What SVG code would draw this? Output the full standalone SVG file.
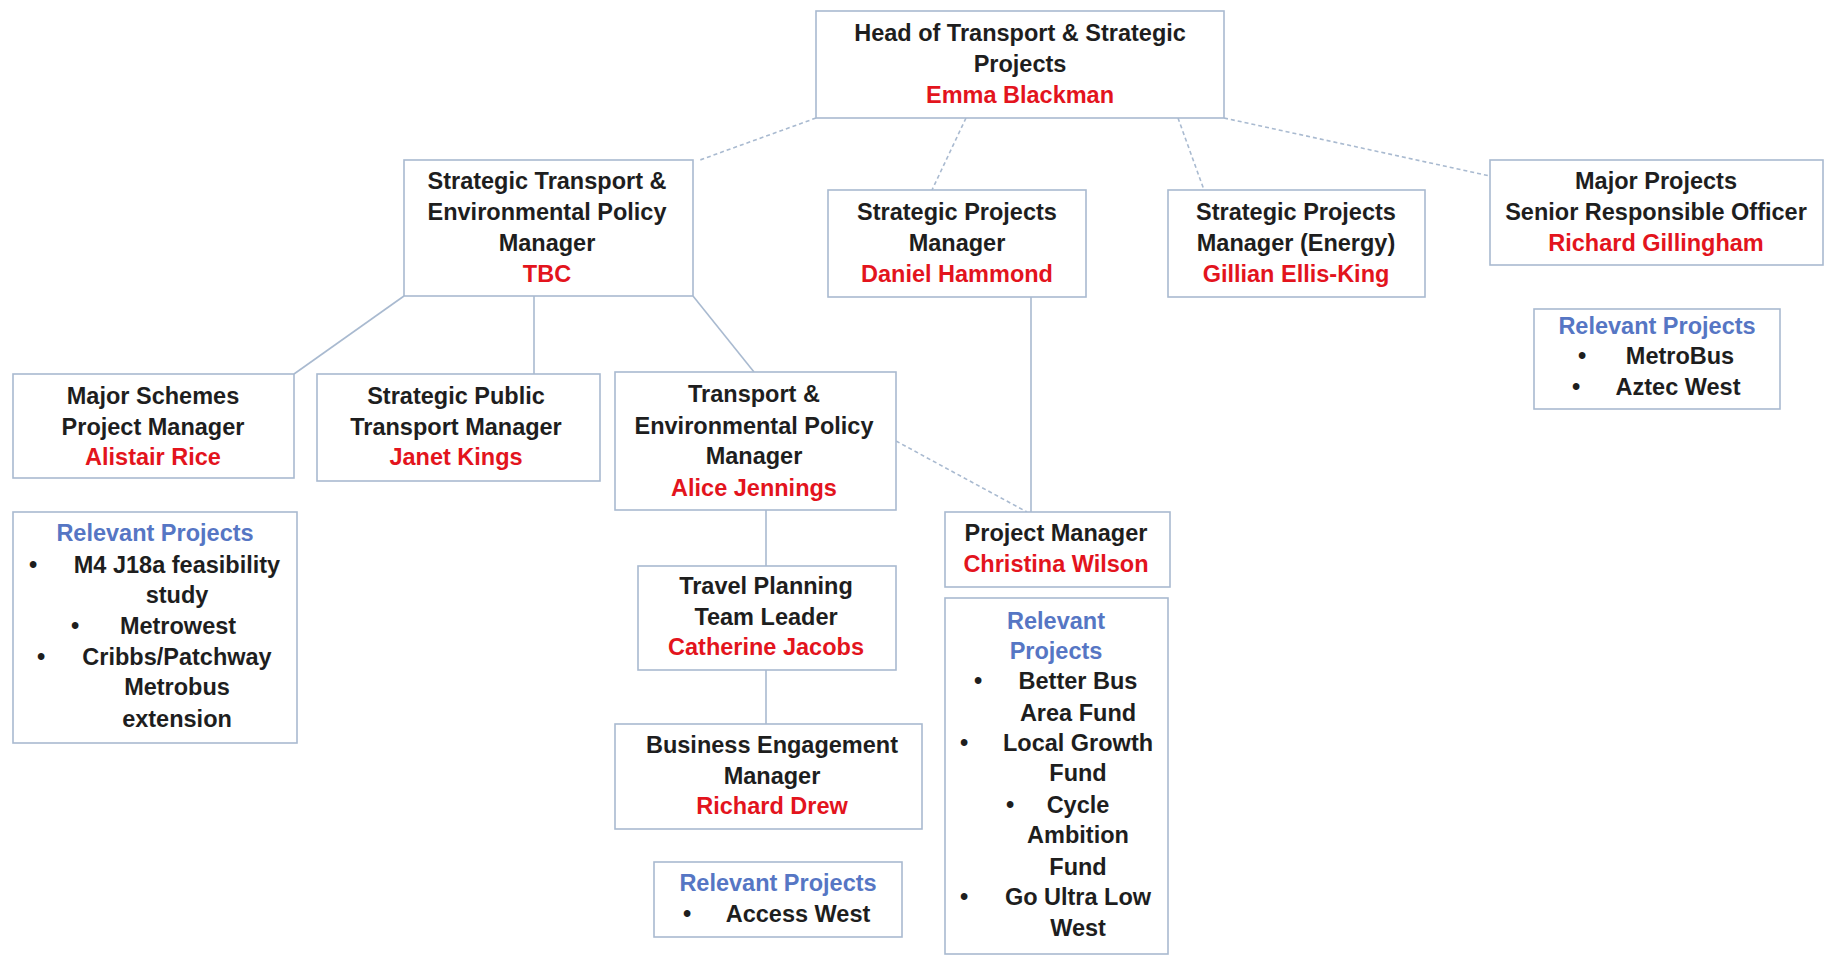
<svg xmlns="http://www.w3.org/2000/svg" width="1829" height="956" viewBox="0 0 1829 956">
<style>
.box{fill:#ffffff;stroke:#a9bad0;stroke-width:1.6}
.t{font-family:"Liberation Sans",Arial,sans-serif;font-weight:bold;font-size:23.5px;fill:#1e1e1e;text-anchor:middle;dominant-baseline:central}
.n{fill:#e3141d}
.rp{fill:#5676c4}
.solid{stroke:#a9bad0;stroke-width:1.6;fill:none}
.dash{stroke:#a9bad0;stroke-width:1.6;fill:none;stroke-dasharray:4 3}
</style>
<rect width="1829" height="956" fill="#ffffff"/>
<g id="connectors">
<line class="dash" x1="816" y1="118" x2="700" y2="160"/>
<line class="dash" x1="966" y1="118" x2="932" y2="190"/>
<line class="dash" x1="1178" y1="118" x2="1204" y2="190"/>
<line class="dash" x1="1224" y1="118" x2="1490" y2="176"/>
<line class="solid" x1="404" y1="296" x2="294" y2="374"/>
<line class="solid" x1="534" y1="296" x2="534" y2="374"/>
<line class="solid" x1="693" y1="296" x2="754" y2="372"/>
<line class="solid" x1="1031" y1="297" x2="1031" y2="512"/>
<line class="dash" x1="896" y1="441" x2="1027" y2="512"/>
<line class="solid" x1="766" y1="510" x2="766" y2="566"/>
<line class="solid" x1="766" y1="670" x2="766" y2="724"/>
</g>
<g id="head">
<rect class="box" x="816" y="11" width="408" height="107"/>
<text class="t" x="1020" y="33">Head of Transport &amp; Strategic</text>
<text class="t" x="1020" y="64">Projects</text>
<text class="t n" x="1020" y="95">Emma Blackman</text>
</g>
<g id="step">
<rect class="box" x="404" y="160" width="289" height="136"/>
<text class="t" x="547" y="181">Strategic Transport &amp;</text>
<text class="t" x="547" y="212">Environmental Policy</text>
<text class="t" x="547" y="243">Manager</text>
<text class="t n" x="547" y="274">TBC</text>
</g>
<g id="spm">
<rect class="box" x="828" y="190" width="258" height="107"/>
<text class="t" x="957" y="212">Strategic Projects</text>
<text class="t" x="957" y="243">Manager</text>
<text class="t n" x="957" y="274">Daniel Hammond</text>
</g>
<g id="spme">
<rect class="box" x="1168" y="190" width="257" height="107"/>
<text class="t" x="1296" y="212">Strategic Projects</text>
<text class="t" x="1296" y="243">Manager (Energy)</text>
<text class="t n" x="1296" y="274">Gillian Ellis-King</text>
</g>
<g id="mpsro">
<rect class="box" x="1490" y="160" width="333" height="105"/>
<text class="t" x="1656" y="181">Major Projects</text>
<text class="t" x="1656" y="212">Senior Responsible Officer</text>
<text class="t n" x="1656" y="243">Richard Gillingham</text>
</g>
<g id="rp-mpsro">
<rect class="box" x="1534" y="309" width="246" height="100"/>
<text class="t rp" x="1657" y="326">Relevant Projects</text>
<text class="t" x="1582" y="356">•</text>
<text class="t" x="1680" y="356">MetroBus</text>
<text class="t" x="1576" y="387">•</text>
<text class="t" x="1678" y="387">Aztec West</text>
</g>
<g id="msp">
<rect class="box" x="13" y="374" width="281" height="104"/>
<text class="t" x="153" y="396">Major Schemes</text>
<text class="t" x="153" y="427">Project Manager</text>
<text class="t n" x="153" y="457">Alistair Rice</text>
</g>
<g id="sptm">
<rect class="box" x="317" y="374" width="283" height="107"/>
<text class="t" x="456" y="396">Strategic Public</text>
<text class="t" x="456" y="427">Transport Manager</text>
<text class="t n" x="456" y="457">Janet Kings</text>
</g>
<g id="tepm">
<rect class="box" x="615" y="372" width="281" height="138"/>
<text class="t" x="754" y="394">Transport &amp;</text>
<text class="t" x="754" y="426">Environmental Policy</text>
<text class="t" x="754" y="456">Manager</text>
<text class="t n" x="754" y="488">Alice Jennings</text>
</g>
<g id="rp-msp">
<rect class="box" x="13" y="512" width="284" height="231"/>
<text class="t rp" x="155" y="533">Relevant Projects</text>
<text class="t" x="33" y="565">•</text>
<text class="t" x="177" y="565">M4 J18a feasibility</text>
<text class="t" x="177" y="595">study</text>
<text class="t" x="75" y="626">•</text>
<text class="t" x="178" y="626">Metrowest</text>
<text class="t" x="41" y="657">•</text>
<text class="t" x="177" y="657">Cribbs/Patchway</text>
<text class="t" x="177" y="687">Metrobus</text>
<text class="t" x="177" y="719">extension</text>
</g>
<g id="pm">
<rect class="box" x="945" y="512" width="225" height="75"/>
<text class="t" x="1056" y="533">Project Manager</text>
<text class="t n" x="1056" y="564">Christina Wilson</text>
</g>
<g id="tptl">
<rect class="box" x="638" y="566" width="258" height="104"/>
<text class="t" x="766" y="586">Travel Planning</text>
<text class="t" x="766" y="617">Team Leader</text>
<text class="t n" x="766" y="647">Catherine Jacobs</text>
</g>
<g id="rp-pm">
<rect class="box" x="945" y="598" width="223" height="356"/>
<text class="t rp" x="1056" y="621">Relevant</text>
<text class="t rp" x="1056" y="651">Projects</text>
<text class="t" x="978" y="681">•</text>
<text class="t" x="1078" y="681">Better Bus</text>
<text class="t" x="1078" y="713">Area Fund</text>
<text class="t" x="964" y="743">•</text>
<text class="t" x="1078" y="743">Local Growth</text>
<text class="t" x="1078" y="773">Fund</text>
<text class="t" x="1010" y="805">•</text>
<text class="t" x="1078" y="805">Cycle</text>
<text class="t" x="1078" y="835">Ambition</text>
<text class="t" x="1078" y="867">Fund</text>
<text class="t" x="964" y="897">•</text>
<text class="t" x="1078" y="897">Go Ultra Low</text>
<text class="t" x="1078" y="928">West</text>
</g>
<g id="bem">
<rect class="box" x="615" y="724" width="307" height="105"/>
<text class="t" x="772" y="745">Business Engagement</text>
<text class="t" x="772" y="776">Manager</text>
<text class="t n" x="772" y="806">Richard Drew</text>
</g>
<g id="rp-bem">
<rect class="box" x="654" y="862" width="248" height="75"/>
<text class="t rp" x="778" y="883">Relevant Projects</text>
<text class="t" x="687" y="914">•</text>
<text class="t" x="798" y="914">Access West</text>
</g>
</svg>
